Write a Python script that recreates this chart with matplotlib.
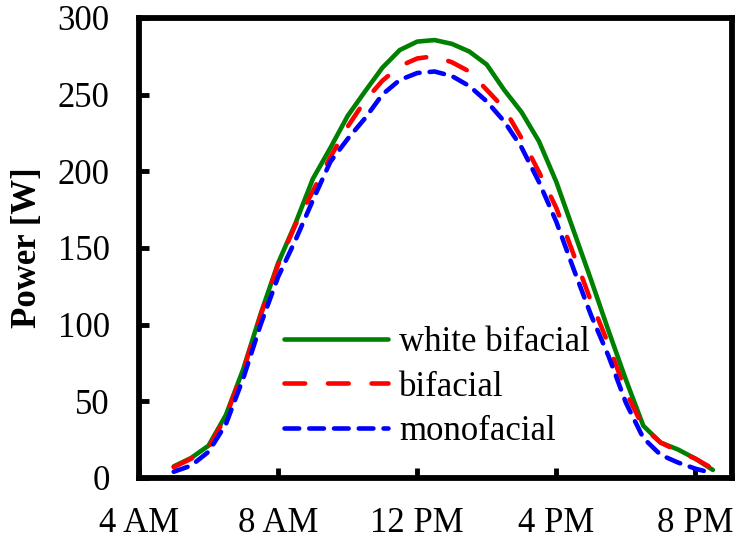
import numpy as np
import matplotlib
matplotlib.use('agg')

import matplotlib.pyplot as plt

plt.rcParams['font.family'] = ['Liberation Serif', 'DejaVu Serif']

# hour of day (24 h clock)
hours = [5.0, 5.5, 6.0, 6.5, 7.0, 7.5, 8.0, 8.5, 9.0, 9.5, 10.0, 10.5,
         11.0, 11.5, 12.0, 12.5, 13.0, 13.5, 14.0, 14.5, 15.0, 15.5, 16.0,
         16.5, 17.0, 17.5, 18.0, 18.5, 19.0, 19.5, 20.0, 20.5]

# power [W]
white_bifacial = [7.5, 13, 21, 41, 71, 107, 140, 166, 195, 215, 236, 252,
                  267.5, 279, 284.5, 285.5, 283, 278, 269.5, 253, 238.5,
                  219.5, 193, 161, 129, 96, 64, 34, 23, 18.5, 12.5, 5.2]
bifacial = [7, 12.5, 19.5, 40, 70, 106, 139, 165, 187, 209, 229, 246,
            259, 268.5, 273.5, 275, 271, 265, 253, 241, 221.5, 199.5, 176,
            145.5, 115, 87, 56, 33, 23, 17.5, 12.5, 6]
monofacial = [4, 8, 17, 35, 65, 100, 131, 155, 181, 206, 221, 234.5,
              250, 259.5, 264, 265, 262, 255.5, 245.5, 232.5, 215.5, 193,
              167, 136, 106, 79.5, 49, 26, 15, 10, 6, 3]

tick_hours = [4, 8, 12, 16, 20]
tick_labels = ['4 AM', '8 AM', '12 PM', '4 PM', '8 PM']

fig = plt.figure(figsize=(7.39, 5.40), dpi=100)
ax = fig.add_axes([0.188, 0.115, 0.8025, 0.852])

lw = 3.3
ax.plot(hours, white_bifacial, color='green', lw=lw, solid_capstyle='round',
        solid_joinstyle='round', label='white bifacial')
ax.plot(hours, bifacial, color='red', lw=lw, dashes=(4.5, 5),
        dash_capstyle='round', dash_joinstyle='round', label='bifacial')
ax.plot(hours, monofacial, color='blue', lw=lw, dashes=(3.2, 2.2),
        dash_capstyle='round', dash_joinstyle='round', label='monofacial')

ax.set_xlim(4, 21.05)
ax.set_ylim(0, 300)
ax.set_xticks(tick_hours)
ax.set_xticklabels(tick_labels)
ax.set_yticks(np.arange(0, 301, 50))

for s in ax.spines.values():
    s.set_linewidth(4.2)
ax.tick_params(direction='in', length=7, width=3.5, labelsize=25)
ax.tick_params(axis='x', pad=21)
ax.tick_params(axis='y', pad=21)

ax.set_ylabel('Power [W]', fontsize=25, fontweight='bold', labelpad=10)

leg = ax.legend(loc='upper left', bbox_to_anchor=(0.245, 0.33), frameon=False,
                fontsize=25, handlelength=3.0, handletextpad=0.3,
                labelspacing=0.33, borderpad=0, borderaxespad=0)

fig.savefig('out.png', dpi=100)
